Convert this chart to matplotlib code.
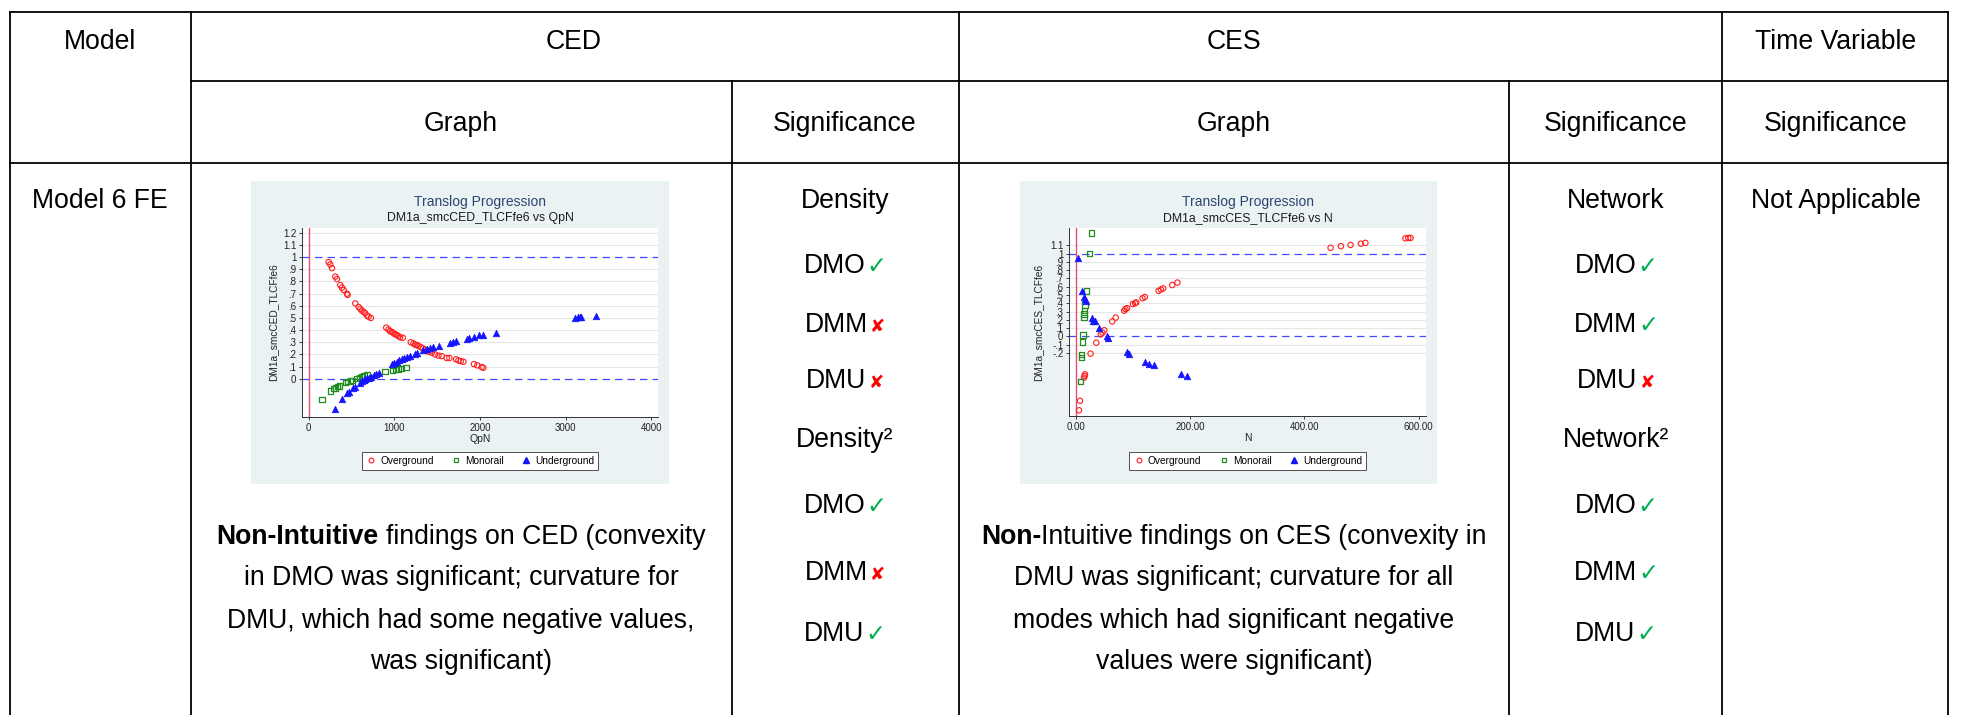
import matplotlib
matplotlib.use('Agg')
import matplotlib.pyplot as plt
from matplotlib.lines import Line2D
from matplotlib.patches import Rectangle

W, H = 1961, 715
FONT = ['Liberation Sans', 'DejaVu Sans']
plt.rcParams['font.family'] = FONT

# ---------------- data ----------------
header_top = ["Model", "CED", "CES", "Time Variable"]
header_sub = ["Graph", "Significance", "Graph", "Significance", "Significance"]
row_label = "Model 6 FE"
time_text = "Not Applicable"

ced_sig_labels = ["Density", "DMO", "DMM", "DMU", "Density²", "DMO", "DMM", "DMU"]
ced_sig_marks = ["", "✓", "✘", "✘", "", "✓", "✘", "✓"]
ces_sig_labels = ["Network", "DMO", "DMM", "DMU", "Network²", "DMO", "DMM", "DMU"]
ces_sig_marks = ["", "✓", "✓", "✘", "", "✓", "✓", "✓"]

ced_para = [[("Non-Intuitive", "bold"), ("findings on CED (convexity", "normal")],
            [("in DMO was significant; curvature for", "normal")],
            [("DMU, which had some negative values,", "normal")],
            [("was significant)", "normal")]]
ces_para = [[("Non-", "bold"), ("Intuitive findings on CES (convexity in", "normal")],
            [("DMU was significant; curvature for all", "normal")],
            [("modes which had significant negative", "normal")],
            [("values were significant)", "normal")]]

series_names = ["Overground", "Monorail", "Underground"]

# CED chart (DM1a_smcCED_TLCFfe6 vs QpN)
ced_over_x = [233, 252, 272, 311, 330, 369, 388, 408, 447, 454, 544, 583, 602, 621, 641, 660, 680, 699, 726,
              905, 932, 951, 971, 990, 1010, 1029, 1049, 1068, 1099, 1192, 1223, 1243, 1262, 1282, 1309, 1332,
              1359, 1379, 1410, 1437, 1476, 1515, 1553, 1612, 1643, 1720, 1748, 1775, 1806, 1930, 1969, 2019, 2039]
ced_over_y = [.96, .94, .91, .84, .82, .77, .75, .73, .70, .69, .62, .59, .575, .56, .55, .54, .52, .51, .50,
              .42, .405, .39, .385, .375, .365, .36, .35, .34, .337, .30, .29, .28, .277, .27, .26, .25,
              .24, .227, .222, .214, .20, .19, .186, .17, .17, .16, .15, .145, .14, .12, .11, .096, .09]
ced_mono_x = [155, 252, 291, 311, 338, 361, 427, 454, 485, 505, 563, 594, 621, 648, 680, 893, 982, 1010, 1049, 1087, 1138]
ced_mono_y = [-.17, -.10, -.08, -.075, -.066, -.06, -.033, -.025, -.02, -.014, .003, .008, .014, .022, .03,
              .058, .07, .074, .08, .085, .09]
ced_under_x = [311, 388, 447, 466, 516, 544, 602, 621, 641, 660, 680, 699, 726, 757, 788, 816, 971, 998, 1029,
               1060, 1087, 1115, 1146, 1177, 1243, 1262, 1340, 1379, 1417, 1449, 1526, 1650, 1689, 1720, 1845,
               1876, 1930, 1992, 2031, 2186, 3107, 3146, 3165, 3184, 3359]
ced_under_y = [-.25, -.17, -.12, -.11, -.08, -.07, -.033, -.02, -.01, -.003, .003, .008, .016, .027, .036, .05,
               .12, .13, .14, .15, .16, .167, .178, .186, .205, .21, .233, .244, .255, .26, .27, .29, .30, .307,
               .33, .337, .345, .356, .36, .38, .50, .507, .507, .507, .52]
ced_xticks = [0, 1000, 2000, 3000, 4000]
ced_xticklabels = ["0", "1000", "2000", "3000", "4000"]
ced_yticks = [0, .1, .2, .3, .4, .5, .6, .7, .8, .9, 1, 1.1, 1.2]
ced_yticklabels = ["0", ".1", ".2", ".3", ".4", ".5", ".6", ".7", ".8", ".9", "1", "1.1", "1.2"]

# CES chart (DM1a_smcCES_TLCFfe6 vs N)
ces_over_x = [5.8, 7.6, 14.6, 15.7, 16.3, 26, 36, 44, 47, 50, 64, 70, 85, 87, 90, 100, 104, 106, 117, 121,
              145, 149, 153, 169, 178, 446, 464, 481, 499, 507, 577, 582, 586]
ces_over_y = [-.895, -.78, -.50, -.48, -.46, -.21, -.077, .024, .044, .073, .18, .226, .31, .33, .34, .39, .40,
              .41, .46, .476, .55, .565, .58, .62, .65, 1.07, 1.09, 1.105, 1.12, 1.13, 1.185, 1.19, 1.19]
ces_mono_x = [28, 24.5, 18.7, 16.3, 15.2, 14.6, 14.6, 12.8, 11.7, 10.5, 9.9, 8.7]
ces_mono_y = [1.25, 1.0, .55, .38, .31, .27, .23, .016, -.07, -.22, -.26, -.55]
ces_under_x = [4.7, 11.7, 14.6, 15.7, 17.5, 28, 30, 33, 41, 54, 57, 89, 93, 121, 129, 137, 184, 195]
ces_under_y = [.95, .55, .476, .45, .43, .226, .19, .18, .105, .004, -.016, -.19, -.21, -.31, -.33, -.35,
               -.46, -.48]
ces_xticks = [0, 200, 400, 600]
ces_xticklabels = ["0.00", "200.00", "400.00", "600.00"]
ces_yticks = [-.2, -.1, 0, .1, .2, .3, .4, .5, .6, .7, .8, .9, 1, 1.1]
ces_yticklabels = ["-.2", "-.1", "0", ".1", ".2", ".3", ".4", ".5", ".6", ".7", ".8", ".9", "1", "1.1"]

# ---------------- figure ----------------
fig = plt.figure(figsize=(W / 100, H / 100), dpi=100)
fig.patch.set_facecolor('white')
tab = fig.add_axes([0, 0, 1, 1])
tab.set_xlim(0, W)
tab.set_ylim(H, 0)
tab.axis('off')
renderer = fig.canvas.get_renderer()

LW = 1.3


def hline(y, x0, x1):
    tab.plot([x0, x1], [y, y], color='black', lw=LW, solid_capstyle='projecting')


def vline(x, y0, y1):
    tab.plot([x, x], [y0, y1], color='black', lw=LW, solid_capstyle='projecting')


hline(12, 10, 1948)
hline(81, 191, 1948)
hline(163, 10, 1948)
for x in (10, 191, 959, 1722, 1948):
    vline(x, 12, H + 5)
for x in (732, 1509):
    vline(x, 81, H + 5)

TS = 19.2
EM = TS * 100 / 72.0


def base(yc):
    # baseline for text visually centred (cap height) at yc
    return yc + 0.358 * EM


def width_of(s, size, weight='normal'):
    t = tab.text(0, 0, s, fontsize=size, fontweight=weight)
    w = t.get_window_extent(renderer).width
    t.remove()
    return w


SPACE = width_of("a a", TS) - width_of("aa", TS)


def mixed_line(xc, yc, parts):
    """parts: list of (text, weight, color, size, gap_before)"""
    items = []
    total = 0
    for s, wt, col, size, gap in parts:
        w = width_of(s, size, wt)
        items.append((s, wt, col, size, w, gap))
        total += w + gap
    x = xc - total / 2
    for s, wt, col, size, w, gap in items:
        x += gap
        tab.text(x, base(yc), s, fontsize=size, fontweight=wt, color=col, ha='left', va='baseline')
        x += w


def ctext(xc, yc, s):
    tab.text(xc, base(yc), s, fontsize=TS, ha='center', va='baseline')


ctext(100, 39, header_top[0])
ctext(574, 39, header_top[1])
ctext(1234, 39, header_top[2])
ctext(1836, 39, header_top[3])
for xc, s in zip((461, 845, 1234, 1616, 1836), header_sub):
    ctext(xc, 121, s)
ctext(100, 198, row_label)
ctext(1836, 198, time_text)

sig_y = [198, 263, 322, 378, 437, 503, 570, 631]
GREEN, RED = '#00B050', '#FF0000'
for xc, labels, marks in ((845, ced_sig_labels, ced_sig_marks), (1616, ces_sig_labels, ces_sig_marks)):
    for y, lab, mk in zip(sig_y, labels, marks):
        parts = [(lab, 'normal', 'black', TS, 0)]
        if mk == "✓":
            parts.append((mk, 'normal', GREEN, TS * 0.9, 1))
        elif mk:
            parts.append((mk, 'normal', RED, TS * 0.68, 2))
        mixed_line(xc, y, parts)

para_y = [534, 575, 618, 659]
for xc, para, joined in ((461, ced_para, False), (1234, ces_para, True)):
    for y, line in zip(para_y, para):
        if len(line) > 1:
            parts = [(line[0][0], 'bold', 'black', TS, 0),
                     (line[1][0], 'normal', 'black', TS, 0 if joined else SPACE)]
        else:
            parts = [(line[0][0], 'normal', 'black', TS, 0)]
        mixed_line(xc, y, parts)

# ---------------- mini charts ----------------
C_RED, C_GREEN, C_BLUE = '#FF1E1E', '#1E8C1E', '#1414FF'


def fig_box(x0, y0, x1, y1):
    return [x0 / W, 1 - y1 / H, (x1 - x0) / W, (y1 - y0) / H]


def mini_chart(bg, plot, xlim, ylim, xticks, xtl, yticks, ytl, grid_vals, data, subtitle, xlabel, ylabel,
               ylab_x):
    bx0, by0, bx1, by1 = bg
    tab.add_patch(Rectangle((bx0, by0), bx1 - bx0, by1 - by0, facecolor='#EAF2F3', edgecolor='none', zorder=0))
    ax = fig.add_axes(fig_box(*plot))
    ax.set_facecolor('white')
    for sp in ('top', 'right'):
        ax.spines[sp].set_visible(False)
    for sp in ('left', 'bottom'):
        ax.spines[sp].set_linewidth(0.7)
        ax.spines[sp].set_color('#333333')
    ax.set_xlim(*xlim)
    ax.set_ylim(*ylim)
    ax.set_xticks(xticks)
    ax.set_xticklabels(xtl)
    ax.set_yticks(yticks)
    ax.set_yticklabels(ytl)
    ax.tick_params(labelsize=7, length=2.5, width=0.6, pad=1.5, colors='#222222')
    for g in grid_vals:
        ax.axhline(g, color='#E6E6E6', lw=0.8, zorder=0)
    ax.axhline(0, color='#4646FF', lw=0.9, ls=(0, (6, 4)), zorder=1)
    ax.axhline(1, color='#4646FF', lw=0.9, ls=(0, (6, 4)), zorder=1)
    ax.axvline(0, color='#E4506C', lw=1.0, zorder=1)
    (ox, oy), (mx, my), (ux, uy) = data
    ax.scatter(ox, oy, s=15, marker='o', facecolors='none', edgecolors=C_RED, linewidths=0.8, zorder=3)
    ax.scatter(mx, my, s=15, marker='s', facecolors='none', edgecolors=C_GREEN, linewidths=0.9, zorder=3)
    ax.scatter(ux, uy, s=22, marker='^', facecolors=C_BLUE, edgecolors=C_BLUE, linewidths=0.5, zorder=3)
    ax.set_xlabel(xlabel, fontsize=7.5, labelpad=1, color='#222222')
    px0, py0, px1, py1 = plot
    cx = (px0 + px1) / 2
    tab.text(cx, 202, "Translog Progression", fontsize=10, ha='center', va='center', color='#2B4570')
    tab.text(cx, 218, subtitle, fontsize=8.8, ha='center', va='center', color='#1a1a1a')
    tab.text(ylab_x, (py0 + py1) / 2, ylabel, fontsize=7.3, rotation=90, ha='center', va='center',
             color='#222222')
    handles = [Line2D([], [], ls='none', marker='o', mfc='none', mec=C_RED, ms=3.5, mew=0.8),
               Line2D([], [], ls='none', marker='s', mfc='none', mec=C_GREEN, ms=3.5, mew=0.9),
               Line2D([], [], ls='none', marker='^', mfc=C_BLUE, mec=C_BLUE, ms=4)]
    fig.legend(handles, series_names, loc='center', bbox_to_anchor=(cx / W, 1 - 461 / H), ncol=3,
               fontsize=7.3, frameon=True, fancybox=False, edgecolor='#333333', framealpha=1,
               handletextpad=0.3, columnspacing=1.6, borderpad=0.35, handlelength=1.2).get_frame().set_linewidth(0.6)
    return ax


mini_chart((251, 181, 669, 484), (302, 228, 658, 417), (-78, 4078), (-0.315, 1.24),
           ced_xticks, ced_xticklabels, ced_yticks, ced_yticklabels,
           [v for v in ced_yticks if v not in (0, 1)],
           ((ced_over_x, ced_over_y), (ced_mono_x, ced_mono_y), (ced_under_x, ced_under_y)),
           "DM1a_smcCED_TLCFfe6 vs QpN", "QpN", "DM1a_smcCED_TLCFfe6", 273)

mini_chart((1020, 181, 1437, 484), (1069, 228, 1426, 416), (-11.7, 613), (-0.964, 1.31),
           ces_xticks, ces_xticklabels, ces_yticks, ces_yticklabels,
           [v for v in ces_yticks if v not in (0, 1)],
           ((ces_over_x, ces_over_y), (ces_mono_x, ces_mono_y), (ces_under_x, ces_under_y)),
           "DM1a_smcCES_TLCFfe6 vs N", "N", "DM1a_smcCES_TLCFfe6", 1038)

fig.savefig('out.png', dpi=100, facecolor='white')
